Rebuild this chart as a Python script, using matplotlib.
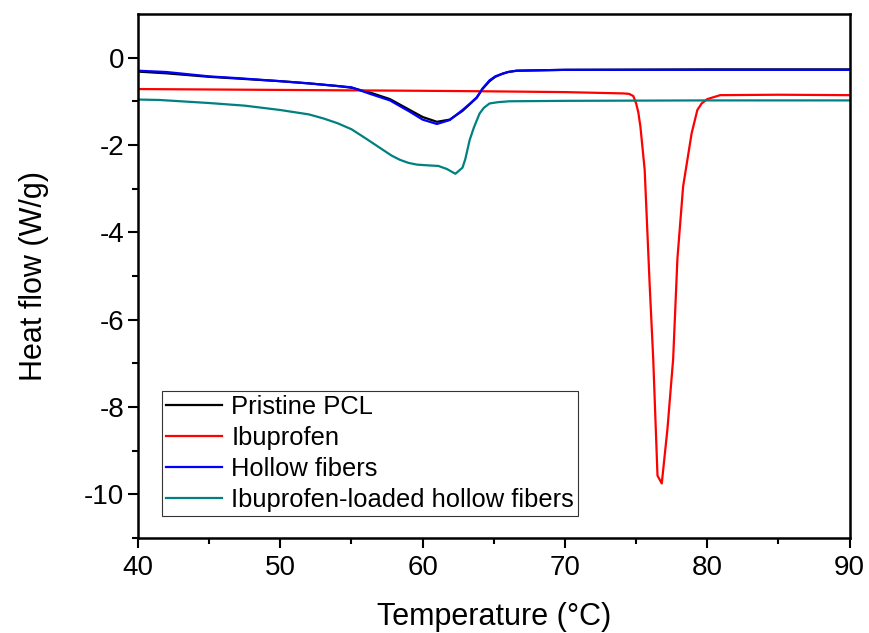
import numpy as np
import matplotlib.pyplot as plt

plt.rcParams['font.family'] = ['Liberation Sans', 'DejaVu Sans']
plt.rcParams['axes.unicode_minus'] = False

# values
t_pcl = [40, 42, 45, 47, 50, 52, 54, 55, 56.3, 57.7, 59.1, 60.0, 61.0, 61.9, 62.8, 63.3, 63.8, 64.2, 64.7, 65.1, 65.6, 66.0, 66.6, 70, 80, 90]
hf_pcl = [-0.32, -0.36, -0.44, -0.48, -0.54, -0.59, -0.65, -0.69, -0.80, -0.95, -1.20, -1.36, -1.47, -1.42, -1.22, -1.07, -0.92, -0.72, -0.54, -0.44, -0.37, -0.33, -0.30, -0.28, -0.27, -0.27]

t_ibu = [40, 50, 60, 64, 70, 74.1, 74.5, 74.8, 75.0, 75.15, 75.3, 75.6, 75.95, 76.2, 76.5, 76.8, 77.2, 77.6, 77.9, 78.3, 78.9, 79.3, 79.6, 80.0, 80.9, 85, 90]
hf_ibu = [-0.72, -0.74, -0.76, -0.77, -0.79, -0.82, -0.83, -0.88, -1.05, -1.25, -1.58, -2.57, -5.2, -6.9, -9.57, -9.75, -8.5, -6.9, -4.6, -2.95, -1.73, -1.2, -1.05, -0.95, -0.86, -0.85, -0.86]

t_hol = [40, 42, 45, 47, 50, 52, 54, 55, 56.3, 57.7, 59.1, 60.0, 61.0, 61.9, 62.8, 63.3, 63.8, 64.2, 64.7, 65.1, 65.6, 66.0, 66.6, 70, 80, 90]
hf_hol = [-0.30, -0.33, -0.43, -0.47, -0.54, -0.59, -0.65, -0.68, -0.83, -0.98, -1.24, -1.42, -1.52, -1.43, -1.20, -1.06, -0.91, -0.71, -0.52, -0.43, -0.37, -0.33, -0.30, -0.28, -0.28, -0.28]

t_load = [40, 41.5, 45, 47.5, 50, 52, 53, 54, 55, 56, 57.2, 57.8, 58.4, 59.0, 59.6, 60.5, 61.1, 61.7, 62.3, 62.8, 63.0, 63.3, 63.6, 64.0, 64.3, 64.7, 65.3, 66.1, 70, 80, 90]
hf_load = [-0.96, -0.97, -1.04, -1.1, -1.2, -1.3, -1.39, -1.5, -1.64, -1.85, -2.11, -2.24, -2.34, -2.41, -2.45, -2.47, -2.48, -2.55, -2.66, -2.52, -2.32, -1.89, -1.6, -1.28, -1.15, -1.05, -1.02, -1.0, -0.99, -0.98, -0.98]

fig = plt.figure(figsize=(8.7, 6.33), dpi=100)
ax = fig.add_axes([0.1586, 0.150, 0.818, 0.828])

ax.plot(t_pcl, hf_pcl, color='black', lw=1.6, label='Pristine PCL')
ax.plot(t_ibu, hf_ibu, color='red', lw=1.6, label='Ibuprofen')
ax.plot(t_hol, hf_hol, color='blue', lw=1.6, label='Hollow fibers')
ax.plot(t_load, hf_load, color='#008080', lw=1.6, label='Ibuprofen-loaded hollow fibers')

ax.set_xlim(40, 90)
ax.set_ylim(-11, 1)
ax.set_xticks(np.arange(40, 91, 10))
ax.set_xticks(np.arange(45, 90, 10), minor=True)
ax.set_yticks(np.arange(-10, 1, 2))
ax.set_yticks(np.arange(-11, 1, 2), minor=True)
ax.tick_params(which='both', direction='out', width=1.5, labelsize=20)
ax.tick_params(axis='x', pad=5)
ax.tick_params(axis='y', pad=3)
ax.tick_params(which='major', length=7)
ax.tick_params(which='minor', length=4)
for s in ax.spines.values():
    s.set_linewidth(1.8)

ax.set_xlabel('Temperature (°C)', fontsize=22, labelpad=15)
ax.set_ylabel('Heat flow (W/g)', fontsize=22, labelpad=25)

leg = ax.legend(loc='upper left', bbox_to_anchor=(0.034, 0.2805), fontsize=18.4,
                frameon=True, fancybox=False, handlelength=2.2, handletextpad=0.35,
                labelspacing=0.28, borderpad=0.15, borderaxespad=0)
leg.get_frame().set_edgecolor('black')
leg.get_frame().set_linewidth(0.8)

fig.savefig('out.png', dpi=100)
